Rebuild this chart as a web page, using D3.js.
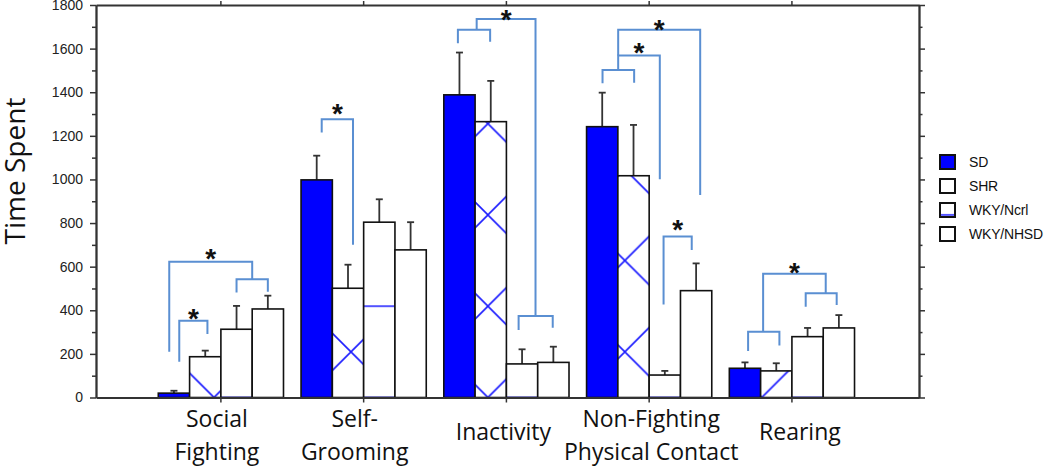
<!DOCTYPE html>
<html><head><meta charset="utf-8">
<script src="https://cdn.jsdelivr.net/npm/d3@7"></script>
<style>body{margin:0;background:#fff}</style>
</head><body>
<svg id="c" width="1050" height="467" xmlns="http://www.w3.org/2000/svg"></svg>
<script>
// ---------- DATA ----------
const categories = ["Social Fighting", "Self-Grooming", "Inactivity", "Non-Fighting Physical Contact", "Rearing"];
const categoryLines = [["Social", "Fighting"], ["Self-", "Grooming"], ["Inactivity"], ["Non-Fighting", "Physical Contact"], ["Rearing"]];
const series = ["SD", "SHR", "WKY/Ncrl", "WKY/NHSD"];
const meanSD   = [20, 998, 1388, 1242, 134];
const meanSHR  = [187, 501, 1265, 1017, 122];
const meanNcrl = [313, 804, 154, 103, 279];
const meanNHSD = [406, 677, 161, 490, 319];
const errSD    = [11, 111, 194, 156, 27];
const errSHR   = [28, 108, 187, 233, 35];
const errNcrl  = [107, 105, 67, 19, 40];
const errNHSD  = [61, 127, 72, 125, 59];
const yMajorTicks = [0, 200, 400, 600, 800, 1000, 1200, 1400, 1600, 1800];
const yMinorTicks = [100, 300, 500, 700, 900, 1100, 1300, 1500, 1700];
// significance brackets: [category, leftBar, rightBar, topValue, leftFootValue, rightFootValue, starValue or null]
// bar positions are in bar-index units (0 = SD centre, 1 = SHR, 2 = WKY/Ncrl, 3 = WKY/NHSD)
const brackets = [
  ["Social Fighting", 0.17, 1.07, 352, 164, 291, 388],
  ["Social Fighting", 2.0, 3.0, 542, 481, 485, null],
  ["Social Fighting", -0.15, 2.5, 622, 210, 542, 663],
  ["Self-Grooming", 0.16, 1.16, 1276, 1215, 700, 1328],
  ["Inactivity", -0.05, 0.98, 1686, 1625, 1632, null],
  ["Inactivity", 1.89, 2.98, 374, 310, 320, null],
  ["Inactivity", 0.55, 2.43, 1736, 1686, 374, 1759],
  ["Non-Fighting Physical Contact", 0.01, 1.02, 1502, 1441, 1444, null],
  ["Non-Fighting Physical Contact", 0.51, 1.84, 1568, 1502, 1001, 1609],
  ["Non-Fighting Physical Contact", 0.51, 3.13, 1686, 1568, 929, 1716],
  ["Non-Fighting Physical Contact", 1.96, 2.86, 738, 427, 677, 799],
  ["Rearing", 0.1, 1.1, 302, 213, 238, null],
  ["Rearing", 0.58, 2.58, 567, 302, 478, 600],
  ["Rearing", 1.94, 2.93, 478, 416, 424, null]
];

// ---------- LAYOUT / STYLE ----------
const means = [meanSD, meanSHR, meanNcrl, meanNHSD];
const errs = [errSD, errSHR, errNcrl, errNHSD];
const plot = {left: 96, right: 919, top: 5, bottom: 397.5};
const labelNudge = [-4, -9, -3, 2, 8];
const blue = "#0000ff", hatchBlue = "#1a1aff", bracketBlue = "#5a8fd2", axisCol = "#333";
const P = 91.3, OX = 214, OY = 397.5;

const svg = d3.select("#c");
const defs = svg.append("defs");
const pX = defs.append("pattern").attr("id", "hatchX").attr("patternUnits", "userSpaceOnUse")
  .attr("x", OX).attr("y", OY).attr("width", P).attr("height", P);
pX.append("rect").attr("width", P).attr("height", P).attr("fill", "#fff");
pX.append("path")
  .attr("d", `M0,0L${P},${P}M0,${P}L${P},0M${-P},0L${P},${2*P}M0,${-P}L${2*P},${P}M${-P},${P}L${P},${-P}M0,${2*P}L${2*P},0`)
  .attr("stroke", hatchBlue).attr("stroke-width", 1.6).attr("fill", "none");
const pH = defs.append("pattern").attr("id", "hlines").attr("patternUnits", "userSpaceOnUse")
  .attr("x", 0).attr("y", OY).attr("width", P).attr("height", P);
pH.append("rect").attr("width", P).attr("height", P).attr("fill", "#fff");
pH.append("path").attr("d", `M0,0H${P}M0,${P}H${P}`).attr("stroke", hatchBlue).attr("stroke-width", 1.6);

const fills = [blue, "url(#hatchX)", "url(#hlines)", "#fff"];

const x = d3.scaleBand().domain(categories).range([plot.left, plot.right])
  .paddingInner(0).paddingOuter(0.3825).align(0.49);
const groupW = x.bandwidth() * 0.877;
const xs = d3.scaleBand().domain(series).range([0, groupW]);
const bw = xs.bandwidth();
const y = d3.scaleLinear().domain([0, 1800]).range([plot.bottom, plot.top]);
const groupLeft = c => x(c) + x.bandwidth() / 2 - groupW / 2;
const barX = (c, u) => groupLeft(c) + (u + 0.5) * bw;

// bars
const barData = [];
series.forEach((s, si) => categories.forEach((c, ci) => barData.push({c, s, si, v: means[si][ci], e: errs[si][ci]})));

const gErr = svg.append("g");
gErr.selectAll("g").data(barData).join("g").each(function(d) {
  const g = d3.select(this);
  const cx = groupLeft(d.c) + xs(d.s) + bw / 2;
  g.append("line").attr("x1", cx).attr("x2", cx).attr("y1", y(d.v)).attr("y2", y(d.v + d.e))
    .attr("stroke", axisCol).attr("stroke-width", 1.8);
  g.append("line").attr("x1", cx - 3.5).attr("x2", cx + 3.5).attr("y1", y(d.v + d.e)).attr("y2", y(d.v + d.e))
    .attr("stroke", axisCol).attr("stroke-width", 1.8);
});

svg.append("g").selectAll("rect").data(barData).join("rect")
  .attr("x", d => groupLeft(d.c) + xs(d.s))
  .attr("y", d => y(d.v))
  .attr("width", bw)
  .attr("height", d => y(0) - y(d.v))
  .attr("fill", d => fills[d.si])
  .attr("stroke", "#111").attr("stroke-width", 1.6);

// brackets
const gB = svg.append("g");
brackets.forEach(b => {
  const [c, u1, u2, top, f1, f2, star] = b;
  const x1 = barX(c, u1), x2 = barX(c, u2);
  gB.append("path")
    .attr("d", `M${x1},${y(f1)}V${y(top)}H${x2}V${y(f2)}`)
    .attr("fill", "none").attr("stroke", bracketBlue).attr("stroke-width", 2);
  if (star !== null) {
    gB.append("text").attr("x", (x1 + x2) / 2).attr("y", y(star) + 15.5)
      .attr("text-anchor", "middle").attr("font-family", "Liberation Sans, Arial, sans-serif")
      .attr("font-weight", "bold").attr("font-size", 28).attr("fill", "#111").text("*");
  }
});

// axes
function styleAxis(g) {
  g.selectAll("path.domain").attr("stroke", axisCol).attr("stroke-width", 1.8);
  g.selectAll(".tick line").attr("stroke", axisCol).attr("stroke-width", 1.5);
}
svg.append("g").attr("transform", `translate(${plot.left},0)`)
  .call(d3.axisLeft(y).tickValues(yMinorTicks).tickSize(4).tickSizeOuter(0).tickFormat(""))
  .call(styleAxis);
const gl = svg.append("g").attr("transform", `translate(${plot.left},0)`)
  .call(d3.axisLeft(y).tickValues(yMajorTicks).tickSize(6).tickSizeOuter(0).tickPadding(7).tickFormat(d3.format("d")))
  .call(styleAxis);
gl.selectAll(".tick text").attr("font-family", "Liberation Sans, Arial, sans-serif").attr("font-size", 14).attr("fill", "#222");
svg.append("g").attr("transform", `translate(${plot.right},0)`)
  .call(d3.axisRight(y).tickValues(yMinorTicks).tickSize(3.5).tickSizeOuter(0).tickFormat(""))
  .call(styleAxis);
svg.append("g").attr("transform", `translate(${plot.right},0)`)
  .call(d3.axisRight(y).tickValues(yMajorTicks).tickSize(6).tickSizeOuter(0).tickFormat(""))
  .call(styleAxis);
svg.append("g").attr("transform", `translate(0,${plot.top})`)
  .call(d3.axisTop(x).tickSize(4).tickSizeOuter(0).tickFormat(""))
  .call(styleAxis);
svg.append("g").attr("transform", `translate(0,${plot.bottom})`)
  .call(d3.axisBottom(x).tickSize(5).tickSizeOuter(0).tickFormat(""))
  .call(styleAxis);

// category labels
const gL = svg.append("g").attr("font-family", "Open Sans, sans-serif").attr("font-size", 23).attr("fill", "#111").attr("text-anchor", "middle");
categories.forEach((c, i) => {
  const lines = categoryLines[i];
  const cx = x(c) + x.bandwidth() / 2 + labelNudge[i];
  const ys = lines.length === 2 ? [427, 460] : [440];
  lines.forEach((t, k) => gL.append("text").attr("x", cx).attr("y", ys[k]).text(t));
});

// y title
svg.append("text").attr("transform", "translate(25,171) rotate(-90)")
  .attr("text-anchor", "middle").attr("font-family", "Open Sans, sans-serif").attr("font-size", 28)
  .attr("fill", "#111").text("Time Spent");

// legend
const lg = svg.append("g");
const legY = [162, 186, 210, 234];
series.forEach((s, i) => {
  lg.append("rect").attr("x", 940).attr("y", legY[i] - 7).attr("width", 15).attr("height", 14)
    .attr("fill", fills[i]).attr("stroke", "#111").attr("stroke-width", 2);
  lg.append("text").attr("x", 969).attr("y", legY[i] + 5).attr("font-family", "Liberation Sans, Arial, sans-serif")
    .attr("font-size", 14).attr("letter-spacing", -0.2).attr("fill", "#111").text(s);
});
</script>
</body></html>
